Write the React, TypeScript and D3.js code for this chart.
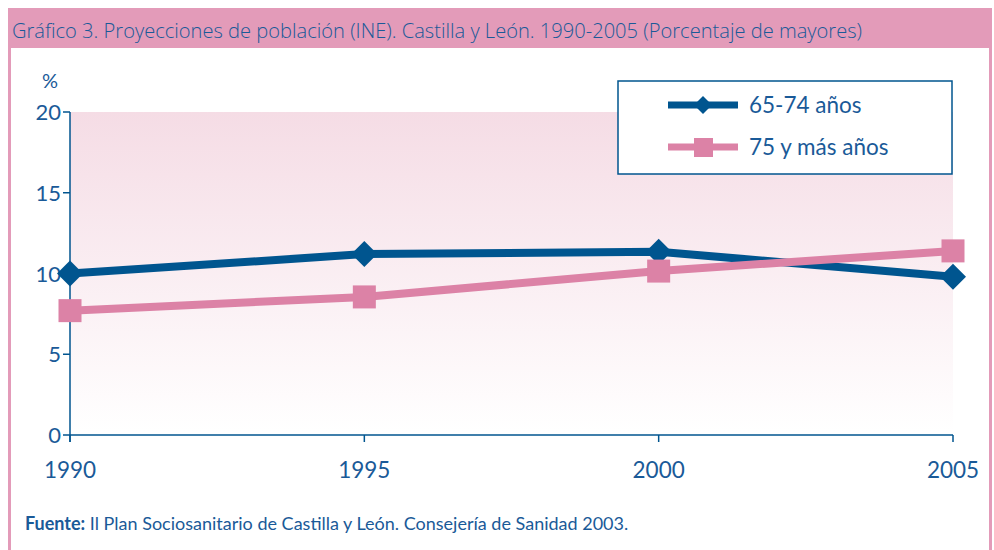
import React from 'react'
import * as d3 from 'd3'

const years = [1990, 1995, 2000, 2005]
const yTicks = [0, 5, 10, 15, 20]
const serie6574 = [10.0, 11.2, 11.35, 9.8]
const serie75 = [7.7, 8.55, 10.15, 11.4]
const seriesNames = ['65-74 años', '75 y más años']

const blue = '#00558f'
const pink = '#dc82a6'
const frame = '#e39bb9'
const txt = '#1a5a98'

export default function App() {
  const width = 994
  const height = 550
  const left = 70
  const right = 953
  const top = 112
  const bottom = 435

  const x = d3.scaleLinear().domain([1990, 2005]).range([left, right])
  const y = d3.scaleLinear().domain([0, 20]).range([bottom, top])

  const line = d3.line<number>()
    .x((d, i) => x(years[i]))
    .y(d => y(d))

  const diamond = (cx: number, cy: number, r: number) =>
    `M${cx},${cy - r}L${cx + r},${cy}L${cx},${cy + r}L${cx - r},${cy}Z`

  const font = 'Lato, "Open Sans", sans-serif'

  return (
    <svg width={width} height={height} style={{ position: 'absolute', left: 0, top: 0 }}>
      <defs>
        <linearGradient id="bg" x1="0" y1="0" x2="0" y2="1">
          <stop offset="0" stopColor="#f5dce5" />
          <stop offset="1" stopColor="#ffffff" />
        </linearGradient>
      </defs>
      <rect x={0} y={0} width={width} height={height} fill="#fff" />
      {/* frame */}
      <rect x={8} y={8} width={984} height={40} fill={frame} />
      <rect x={8} y={8} width={3} height={height} fill={frame} />
      <rect x={989} y={8} width={3} height={height} fill={frame} />
      <text x={12} y={38} fontFamily='"Liberation Sans Narrow", "Open Sans", sans-serif' fontSize={21}
        fontWeight={300} fill={txt} textLength={850} lengthAdjust="spacingAndGlyphs">
        Gráfico 3.  Proyecciones de población (INE). Castilla y León. 1990-2005 (Porcentaje de mayores)
      </text>

      {/* plot background */}
      <rect x={left} y={top} width={right - left} height={bottom - top - 3} fill="url(#bg)" />

      {/* axes */}
      <line x1={left} x2={left} y1={top} y2={bottom + 7} stroke={blue} strokeWidth={1.5} />
      <line x1={left} x2={right} y1={bottom} y2={bottom} stroke={blue} strokeWidth={1.5} />
      {yTicks.map(t => (
        <g key={t}>
          <line x1={left - 7} x2={left} y1={y(t)} y2={y(t)} stroke={blue} strokeWidth={1.5} />
          <text x={left - 9} y={y(t) + 8} textAnchor="end" fontFamily={font} fontSize={22} fill={txt}>{t}</text>
        </g>
      ))}
      <text x={50} y={88} textAnchor="middle" fontFamily={font} fontSize={20} fill={txt}>%</text>
      {years.map(yr => (
        <g key={yr}>
          <line x1={x(yr)} x2={x(yr)} y1={bottom} y2={bottom + 7} stroke={blue} strokeWidth={1.5} />
          <text x={x(yr)} y={478} textAnchor="middle" fontFamily={font} fontSize={22.5} fill={txt}>{yr}</text>
        </g>
      ))}

      {/* series */}
      <path d={line(serie6574) || ''} fill="none" stroke={blue} strokeWidth={8} />
      <path d={line(serie75) || ''} fill="none" stroke={pink} strokeWidth={8} />
      {serie6574.map((v, i) => (
        <path key={'d' + i} d={diamond(x(years[i]), y(v), 13)} fill={blue} />
      ))}
      {serie75.map((v, i) => (
        <rect key={'s' + i} x={x(years[i]) - 11.5} y={y(v) - 11.5} width={23} height={23} fill={pink} />
      ))}

      {/* legend */}
      <rect x={618} y={81} width={334} height={93} fill="#fff" stroke={blue} strokeWidth={1.5} />
      <line x1={668} x2={738} y1={105} y2={105} stroke={blue} strokeWidth={7} />
      <path d={diamond(703, 105, 9)} fill={blue} />
      <text x={749} y={113} fontFamily={font} fontSize={22.5} fill={txt}>{seriesNames[0]}</text>
      <line x1={668} x2={738} y1={147} y2={147} stroke={pink} strokeWidth={7} />
      <rect x={694} y={138} width={19} height={19} fill={pink} />
      <text x={749} y={155} fontFamily={font} fontSize={22.5} fill={txt}>{seriesNames[1]}</text>

      {/* source */}
      <text x={25} y={530} fontFamily={font} fontSize={18} fill={txt}>
        <tspan fontWeight="bold">Fuente:</tspan> Il Plan Sociosanitario de Castilla y León. Consejería de Sanidad 2003.
      </text>
    </svg>
  )
}
